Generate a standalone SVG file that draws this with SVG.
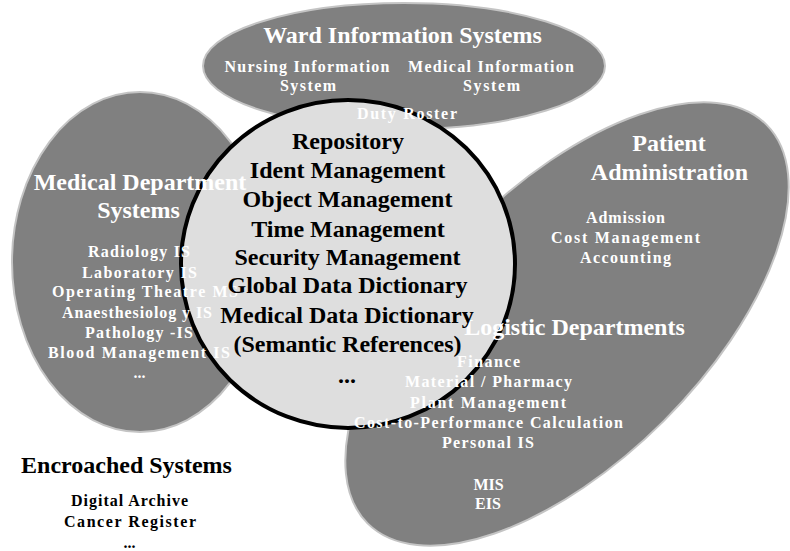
<svg xmlns="http://www.w3.org/2000/svg" width="790" height="551" viewBox="0 0 790 551" font-family="Liberation Serif, serif" font-weight="700">
  <style>
    .area { fill: #808080; stroke: #c4c4c4; stroke-width: 2; }
    .core { fill: #dedede; stroke: #000; stroke-width: 4; }
    .t { font-family: 'Liberation Serif', serif; font-weight: 700; text-anchor: middle; }
    .w { fill: #ffffff; }
    .k { fill: #000000; }
    .h { font-size: 24px; }
    .s { font-size: 16px; }
  </style>

  <!-- background areas -->
  <g id="ward-shape">
    <ellipse class="area" cx="404" cy="66" rx="201" ry="63"/>
  </g>
  <g id="meddept-shape">
    <ellipse class="area" cx="140" cy="262" rx="128" ry="170"/>
  </g>
  <g id="admin-shape">
    <ellipse class="area" cx="567" cy="324" rx="282" ry="137" transform="rotate(-45 567 324)"/>
  </g>
  <g id="core-shape">
    <ellipse class="core" cx="348" cy="264" rx="167" ry="164"/>
  </g>

  <!-- Ward Information Systems -->
  <g id="ward">
    <text class="t w h" x="402.5" y="43">Ward Information Systems</text>
    <text class="t w s" x="307" y="72" textLength="165" lengthAdjust="spacing">Nursing Information</text>
    <text class="t w s" x="308" y="91" textLength="56" lengthAdjust="spacing">System</text>
    <text class="t w s" x="491" y="72" textLength="166" lengthAdjust="spacing">Medical Information</text>
    <text class="t w s" x="491.5" y="91" textLength="57" lengthAdjust="spacing">System</text>
    <text class="t w s" x="407" y="119" textLength="100" lengthAdjust="spacing">Duty Roster</text>
  </g>

  <!-- Medical Department Systems -->
  <g id="meddept">
    <text class="t w h" x="140" y="190">Medical Department</text>
    <text class="t w h" x="138.5" y="218">Systems</text>
    <text class="t w s" x="139" y="257" textLength="102" lengthAdjust="spacing">Radiology IS</text>
    <text class="t w s" x="139.5" y="278" textLength="115" lengthAdjust="spacing">Laboratory IS</text>
    <text class="t w s" x="145" y="297" textLength="186" lengthAdjust="spacing">Operating Theatre MS</text>
    <text class="t w s" x="137" y="318" textLength="150" lengthAdjust="spacing">Anaesthesiolog y IS</text>
    <text class="t w s" x="139" y="338" textLength="108" lengthAdjust="spacing">Pathology -IS</text>
    <text class="t w s" x="139" y="358" textLength="182" lengthAdjust="spacing">Blood Management IS</text>
    <text class="t w s" x="139.5" y="378">...</text>
  </g>

  <!-- Patient Administration / Logistic Departments -->
  <g id="admin">
    <text class="t w h" x="669" y="151">Patient</text>
    <text class="t w h" x="669.5" y="180">Administration</text>
    <text class="t w s" x="625.5" y="223" textLength="79" lengthAdjust="spacing">Admission</text>
    <text class="t w s" x="625.5" y="243" textLength="149" lengthAdjust="spacing">Cost Management</text>
    <text class="t w s" x="625.5" y="263" textLength="91" lengthAdjust="spacing">Accounting</text>
  </g>
  <g id="logistic">
    <text class="t w h" x="574.5" y="335">Logistic Departments</text>
    <text class="t w s" x="488.5" y="367" textLength="63" lengthAdjust="spacing">Finance</text>
    <text class="t w s" x="488.5" y="387" textLength="167" lengthAdjust="spacing">Material / Pharmacy</text>
    <text class="t w s" x="488" y="408" textLength="156" lengthAdjust="spacing">Plant Management</text>
    <text class="t w s" x="488.5" y="428" textLength="269" lengthAdjust="spacing">Cost-to-Performance Calculation</text>
    <text class="t w s" x="488" y="448" textLength="92" lengthAdjust="spacing">Personal IS</text>
    <text class="t w s" x="488.5" y="490">MIS</text>
    <text class="t w s" x="488" y="509">EIS</text>
  </g>

  <!-- central services -->
  <g id="core">
    <text class="t k h" x="348" y="149">Repository</text>
    <text class="t k h" x="347.5" y="178">Ident Management</text>
    <text class="t k h" x="347.5" y="207">Object Management</text>
    <text class="t k h" x="348" y="237">Time Management</text>
    <text class="t k h" x="347.5" y="265">Security Management</text>
    <text class="t k h" x="347.5" y="293">Global Data Dictionary</text>
    <text class="t k h" x="347" y="323">Medical Data Dictionary</text>
    <text class="t k h" x="347.5" y="352">(Semantic References)</text>
    <text class="t k h" x="347" y="383">...</text>
  </g>

  <!-- Encroached Systems -->
  <g id="encroached">
    <text class="t k h" x="126.5" y="473">Encroached Systems</text>
    <text class="t k s" x="129.5" y="506" textLength="117" lengthAdjust="spacing">Digital Archive</text>
    <text class="t k s" x="130" y="527" textLength="132" lengthAdjust="spacing">Cancer Register</text>
    <text class="t k s" x="129.5" y="548">...</text>
  </g>
</svg>
